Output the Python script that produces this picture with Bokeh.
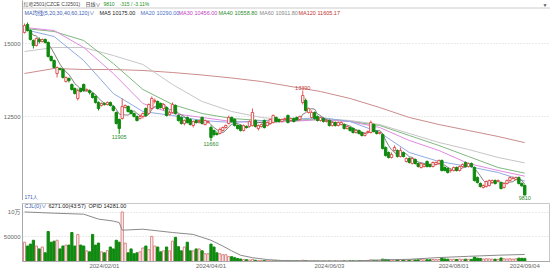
import pandas as pd
from bokeh.plotting import figure
from bokeh.models import Range1d, FixedTicker, Label, ColumnDataSource, Span
from bokeh.layouts import column
from bokeh.embed import file_html
from bokeh.resources import INLINE
from bokeh.core.properties import value

# ---------------- data ----------------
opens = [
    15377, 15651, 15446, 15103, 14932, 15137, 15069, 15137, 15035, 14555,
    14418, 13973, 14144, 14110, 13699, 13802, 13596, 13459, 13117, 13459,
    13596, 13391, 13391, 13288, 13185, 12980, 12877, 12945, 12911, 12980,
    12843, 12637, 12397, 12432, 12808, 12843, 12706, 12603, 12500, 12432,
    12500, 12774, 12603, 12774, 13014, 13014, 12945, 12774, 12808, 12569,
    12637, 12877, 12534, 12466, 12260, 12466, 12397, 12192, 12363, 12329,
    12466, 12226, 12295, 12123, 12021, 11918, 11918, 12021, 12123, 12260,
    12466, 12397, 12192, 12192, 12021, 12158, 12158, 12192, 12363, 12089,
    12158, 12363, 12192, 12260, 12295, 12466, 12397, 12329, 12397, 12534,
    12363, 12432, 12466, 12397, 12980, 13048, 12637, 12466, 12637, 12500,
    12363, 12432, 12329, 12363, 12192, 12295, 12192, 12226, 12226, 12089,
    12123, 12089, 11952, 12021, 11952, 11849, 11952, 11952, 12226, 11986,
    11918, 11884, 11439, 11267, 11096, 11336, 11336, 11130, 11267, 10959,
    11062, 10890, 11028, 10890, 10753, 10788, 10959, 10856, 10788, 10856,
    10890, 10993, 10753, 10719, 10651, 10651, 10753, 10651, 10788, 10925,
    10788, 10890, 10753, 10411, 10206, 10069, 10103, 10137, 10240, 10308,
    10274, 10240, 10069, 10206, 10308, 10377, 10343, 10411, 10206, 10137,
]
closes = [
    15617, 15446, 15137, 14932, 15172, 15069, 15137, 15035, 14555, 14418,
    14178, 14178, 14110, 13836, 13836, 13733, 13425, 13288, 13391, 13356,
    13391, 13425, 13322, 13151, 12980, 12774, 12945, 12911, 12980, 12877,
    12706, 12260, 12089, 12843, 12877, 12671, 12603, 12500, 12363, 12500,
    12603, 12534, 12911, 13117, 13048, 12774, 12808, 12911, 12534, 12637,
    12911, 12603, 12363, 12260, 12363, 12295, 12226, 12329, 12295, 12363,
    12260, 12363, 12329, 11781, 11884, 11884, 12055, 12123, 12192, 12466,
    12329, 12192, 12089, 12021, 12192, 12123, 12329, 12637, 12158, 12192,
    12226, 12123, 12295, 12397, 12534, 12329, 12329, 12397, 12432, 12295,
    12432, 12329, 12397, 12500, 13219, 12706, 12774, 12637, 12432, 12363,
    12466, 12329, 12363, 12192, 12295, 12192, 12295, 12295, 12089, 12158,
    12021, 11952, 12021, 11918, 11849, 11918, 11986, 12295, 11986, 11918,
    11952, 11404, 11165, 11096, 11199, 11439, 11130, 11336, 11130, 11062,
    10925, 11062, 10890, 10788, 10890, 10856, 10788, 10788, 10925, 10925,
    10993, 10651, 10651, 10582, 10651, 10753, 10651, 10788, 10856, 10788,
    10890, 10788, 10308, 10240, 10103, 10137, 10274, 10308, 10308, 10206,
    10308, 10034, 10206, 10308, 10411, 10377, 10411, 10206, 10125, 9810,
]
highs = [
    15685, 15720, 15480, 15137, 15206, 15206, 15172, 15172, 15069, 14589,
    14452, 14213, 14178, 14144, 13870, 13836, 13630, 13493, 13459, 13493,
    13630, 13459, 13425, 13322, 13219, 13014, 12980, 12980, 13014, 13014,
    12877, 12671, 12432, 13117, 12911, 12877, 12740, 12637, 12534, 12569,
    12637, 12808, 12945, 13185, 13117, 13048, 12980, 12945, 12843, 12706,
    12980, 12911, 12569, 12500, 12397, 12500, 12432, 12363, 12397, 12397,
    12500, 12397, 12363, 12192, 12055, 11986, 12123, 12158, 12226, 12534,
    12500, 12432, 12226, 12226, 12226, 12192, 12363, 12774, 12397, 12226,
    12260, 12397, 12329, 12432, 12569, 12500, 12432, 12432, 12466, 12569,
    12466, 12466, 12500, 12534, 13390, 13117, 12808, 12706, 12671, 12534,
    12500, 12466, 12397, 12397, 12329, 12329, 12329, 12329, 12260, 12192,
    12158, 12123, 12055, 12055, 11986, 11952, 12021, 12363, 12260, 12021,
    11986, 11918, 11473, 11302, 11267, 11507, 11370, 11439, 11302, 11096,
    11096, 11096, 11062, 10925, 10925, 10890, 10993, 10890, 10959, 10959,
    11028, 11028, 10788, 10753, 10719, 10788, 10788, 10822, 10890, 10959,
    10925, 10925, 10788, 10445, 10240, 10171, 10308, 10343, 10343, 10343,
    10343, 10274, 10240, 10343, 10445, 10445, 10445, 10445, 10240, 10171,
]
lows = [
    15343, 15411, 15103, 14829, 14898, 15000, 15035, 15000, 14521, 14384,
    14144, 13836, 14076, 13802, 13665, 13665, 13391, 13254, 13048, 13322,
    13356, 13356, 13254, 13117, 12945, 12706, 12843, 12877, 12877, 12843,
    12671, 12226, 11905, 12397, 12774, 12637, 12569, 12466, 12329, 12397,
    12432, 12500, 12569, 12740, 12945, 12740, 12774, 12706, 12500, 12534,
    12603, 12569, 12329, 12226, 12192, 12260, 12192, 12123, 12260, 12260,
    12226, 12192, 12260, 11660, 11815, 11849, 11884, 11986, 12089, 12226,
    12295, 12158, 12055, 11986, 11986, 12089, 12123, 12158, 12123, 12021,
    12123, 12089, 12158, 12226, 12260, 12295, 12295, 12295, 12363, 12260,
    12329, 12295, 12363, 12363, 12911, 12671, 12603, 12432, 12397, 12329,
    12329, 12295, 12295, 12158, 12158, 12158, 12158, 12192, 12055, 12055,
    11986, 11918, 11918, 11884, 11815, 11815, 11918, 11918, 11952, 11884,
    11884, 11370, 11130, 11062, 11062, 11302, 11096, 11096, 11096, 10925,
    10890, 10856, 10856, 10753, 10719, 10753, 10753, 10753, 10753, 10822,
    10856, 10617, 10617, 10548, 10582, 10617, 10617, 10617, 10753, 10753,
    10753, 10753, 10274, 10206, 10069, 10034, 10069, 10103, 10206, 10171,
    10240, 10000, 10034, 10171, 10274, 10343, 10308, 10171, 10103, 9810,
]
volumes = [
    39200, 31400, 35300, 43100, 31400, 25500, 29400, 17600, 60800, 39200,
    41200, 43100, 25500, 31400, 33300, 33300, 58800, 31400, 54900, 33300,
    31400, 21600, 19600, 54900, 33300, 37300, 19600, 17600, 22000, 29400,
    25500, 43100, 39200, 100500, 37300, 17600, 25500, 15700, 17600, 19600,
    27400, 31400, 24000, 51000, 31400, 29400, 19600, 21600, 29400, 21600,
    41200, 49000, 30000, 21600, 29400, 39200, 21600, 21600, 25500, 25500,
    21600, 15700, 15700, 35300, 29400, 17600, 15700, 13700, 13700, 9800,
    9800, 7800, 6000, 5000, 4200, 3600, 3000, 4500, 2600, 2200,
    2000, 1800, 1600, 1500, 1900, 1400, 1200, 1300, 1100, 1500,
    1200, 1100, 1300, 1200, 2500, 1800, 1300, 1200, 1100, 1000,
    1200, 1100, 1000, 1200, 1000, 1100, 1000, 1200, 1300, 1100,
    1400, 1500, 1300, 1600, 1800, 1700, 2000, 3200, 2600, 2200,
    2400, 4800, 4200, 3600, 2800, 3000, 3400, 3800, 3100, 3300,
    3000, 3600, 3200, 3500, 3900, 3300, 3600, 3400, 4000, 3700,
    4100, 7600, 5200, 4800, 4300, 4600, 4200, 4900, 4400, 4700,
    4500, 4300, 8900, 6800, 6200, 5000, 5600, 5200, 4800, 4600,
    4400, 7200, 5400, 5100, 5600, 4900, 5300, 6800, 6500, 6271,
]

# moving-average lines at sample bars
ma_idx = [0, 10, 20, 30, 40, 50, 60, 70, 80, 90, 100, 110, 120, 130, 140, 150, 160, 169]
ma20 = [15480, 15240, 14418, 13288, 12671, 12534, 12363, 12295, 12363, 12397, 12466, 12329, 11952, 11267, 10959, 10788, 10582, 10290]
ma30 = [15548, 15446, 14863, 13973, 12945, 12603, 12466, 12329, 12295, 12329, 12397, 12329, 12123, 11678, 11336, 10890, 10651, 10456]
ma40 = [15514, 15411, 15103, 14315, 13425, 12911, 12603, 12432, 12363, 12363, 12397, 12329, 12192, 11849, 11507, 11130, 10753, 10559]
ma60 = [14726, 14863, 14863, 14589, 14281, 13596, 13014, 12671, 12466, 12363, 12432, 12363, 12226, 11918, 11610, 11370, 11096, 10912]
ma120 = [13973, 14144, 14110, 14110, 14076, 14007, 13921, 13819, 13699, 13528, 13356, 13117, 12808, 12466, 12226, 12021, 11815, 11605]

# open interest line read at sample bars
oi_idx = [0, 10, 20, 25, 30, 32, 33, 40, 50, 57, 60, 63, 67, 70, 73, 77, 82, 87, 100, 110, 115, 120, 130, 140, 150, 160, 169]
oi_val = [100500, 98000, 96000, 86000, 82000, 79000, 63500, 65500, 58800, 54900, 49000, 43100, 31400, 21600, 12700,
          7800, 3900, 2000, 1000, 1000, 2000, 3000, 4500, 8000, 10500, 12800, 14281]

date_tick_idx = [27, 63, 103, 145, 169]
date_tick_labels = ["2024/02/01", "2024/04/01", "2024/06/03", "2024/08/01", "2024/09/04"]
price_ticks = [12500, 15000]
vol_ticks = [50000, 100000]
vol_tick_labels = ["50000", "10万"]
low_mark_idx = [32, 63, 169]
high_mark_idx = [94]

# ---------------- styling ----------------
UP = "#e05656"
DOWN = "#0f8a0f"
VOL_UP = "#d98080"
FONT = "Liberation Sans, Noto Sans CJK SC, sans-serif"
AXIS_C = "#a8a8a8"
LABEL_C = "#666666"

n = len(closes)
xs = list(range(n))
is_up = [c >= o for o, c in zip(opens, closes)]
src = ColumnDataSource(dict(
    x=xs,
    top=[max(o, c) for o, c in zip(opens, closes)],
    bottom=[min(o, c) for o, c in zip(opens, closes)],
    high=highs, low=lows, vol=volumes,
    line=[UP if u else DOWN for u in is_up],
    fill=["#ffffff" if u else DOWN for u in is_up],
    vline=[VOL_UP if u else DOWN for u in is_up],
    vfill=["#ffffff" if u else DOWN for u in is_up],
))
ma5 = pd.Series(closes).rolling(5, min_periods=1).mean().tolist()

X_RANGE = Range1d(-0.68, 177.7)
PRICE_TOP, PRICE_BOT, MAIN_H = 16473, 9623, 200


def style_axis(ax):
    ax.major_tick_line_color = None
    ax.minor_tick_line_color = None
    ax.major_tick_out = 0
    ax.major_tick_in = 0
    ax.minor_tick_out = 0
    ax.minor_tick_in = 0
    ax.axis_line_color = AXIS_C
    ax.major_label_text_font_size = "6px"
    ax.major_label_text_color = LABEL_C
    ax.major_label_text_font = FONT


def hdr(fig, cx, cy, text, color, left, bottom, size="5.5px"):
    fig.add_layout(Label(x=cx - left, y=bottom - cy, x_units="screen", y_units="screen", text=text,
                         text_color=color, text_font_size=size, text_font=FONT,
                         text_baseline="middle", text_align="left"))


# ---------------- main price panel (frame from canvas y 0 to 200) ----------------
p = figure(width=550, height=MAIN_H, x_range=X_RANGE, y_range=Range1d(PRICE_BOT, PRICE_TOP),
           x_axis_location=None, toolbar_location=None, output_backend="svg",
           min_border_left=22, min_border_right=0, min_border_top=0, min_border_bottom=0,
           outline_line_color=None, background_fill_color="white", border_fill_color="white")
p.yaxis.ticker = FixedTicker(ticks=price_ticks)
style_axis(p.yaxis[0])
p.yaxis.major_label_standoff = 2
p.xgrid.visible = False
p.ygrid.grid_line_color = "#d4d4d4"
p.ygrid.grid_line_dash = "1 2"

# thin rule under the header row
p.add_layout(Span(location=PRICE_TOP - 7.5 * (PRICE_TOP - PRICE_BOT) / MAIN_H, dimension="width",
                  line_color="#cccccc", line_width=1))

ma_colors = {"ma20": "#90aae2", "ma30": "#e08ae0", "ma40": "#80b880", "ma60": "#c6c6c6", "ma120": "#cc8c8c"}
p.line(ma_idx, ma120, color=ma_colors["ma120"], line_width=1)
p.line(ma_idx, ma60, color=ma_colors["ma60"], line_width=1)
p.line(ma_idx, ma40, color=ma_colors["ma40"], line_width=1)
p.line(ma_idx, ma30, color=ma_colors["ma30"], line_width=1)
p.line(ma_idx, ma20, color=ma_colors["ma20"], line_width=1)
p.line(xs, ma5, color="#606060", line_width=0.8)

p.segment(x0="x", y0="low", x1="x", y1="high", line_color="line", line_width=1, source=src)
p.vbar(x="x", top="top", bottom="bottom", width=0.8, fill_color="fill", line_color="line",
       line_width=1, source=src)

p.text(x=low_mark_idx, y=[lows[i] for i in low_mark_idx], text=[str(lows[i]) for i in low_mark_idx],
       text_font=value(FONT), text_font_size="5.5px", text_color="#2a8a2a",
       text_align="center", text_baseline="top", y_offset=1)
p.text(x=high_mark_idx, y=[highs[i] for i in high_mark_idx], text=[str(highs[i]) for i in high_mark_idx],
       text_font=value(FONT), text_font_size="5.5px", text_color="#c84040",
       text_align="center", text_baseline="bottom", y_offset=-1)

# header row (canvas y ~3.5)
hdr(p, 23, 3.5, "红枣2501(CZCE CJ2501)", "#444444", 22, MAIN_H, "5px")
hdr(p, 85, 3.5, "日线∨", "#444444", 22, MAIN_H, "5px")
hdr(p, 103, 3.5, "9810", "#1a8f1a", 22, MAIN_H, "5px")
hdr(p, 119, 3.5, "-315 / -3.11%", "#1a8f1a", 22, MAIN_H, "5px")
hdr(p, 542, 4.5, "▼", "#555555", 22, MAIN_H, "5px")
# MA legend row
hdr(p, 24, 12, "MA均线(5,20,30,40,60,120)∨", "#3a5cb0", 22, MAIN_H, "5.3px")
hdr(p, 99, 12, "MA5 10175.00", "#222222", 22, MAIN_H)
hdr(p, 140, 12, "MA20 10290.00", "#4a6fc8", 22, MAIN_H)
hdr(p, 178, 12, "MA30 10456.00", "#c03cc0", 22, MAIN_H)
hdr(p, 218, 12, "MA40 10558.80", "#2e8b2e", 22, MAIN_H)
hdr(p, 259, 12, "MA60 10911.80", "#888888", 22, MAIN_H)
hdr(p, 298, 12, "MA120 11605.17", "#c03030", 22, MAIN_H)
hdr(p, 24, 196, "171人", "#3a5cb0", 22, MAIN_H, "5px")

# ---------------- separator band ----------------
band = figure(width=550, height=3, x_axis_location=None, y_axis_location=None,
              toolbar_location=None, output_backend="svg", min_border=0,
              outline_line_color=None, background_fill_color="#d6d6d6", border_fill_color="#d6d6d6")

# ---------------- volume panel ----------------
v = figure(width=550, height=68, x_range=X_RANGE, y_range=Range1d(0, 117647),
           toolbar_location=None, output_backend="svg",
           min_border_left=22, min_border_right=0, min_border_top=0, min_border_bottom=8,
           outline_line_color="#c8c8c8", background_fill_color="white", border_fill_color="white")
v.yaxis.ticker = FixedTicker(ticks=vol_ticks)
v.yaxis.major_label_overrides = dict(zip(vol_ticks, vol_tick_labels))
style_axis(v.yaxis[0])
v.yaxis.major_label_standoff = 2
v.xaxis.ticker = FixedTicker(ticks=date_tick_idx)
v.xaxis.major_label_overrides = dict(zip(date_tick_idx, date_tick_labels))
style_axis(v.xaxis[0])
v.xaxis.major_label_standoff = 1
v.xgrid.visible = False
v.ygrid.grid_line_color = "#d4d4d4"
v.ygrid.grid_line_dash = "1 2"

v.vbar(x="x", top="vol", bottom=0, width=0.75, fill_color="vfill", line_color="vline",
       line_width=1, source=src)
v.line(oi_idx, oi_val, color="#8a8a8a", line_width=1)

hdr(v, 24, 207, "CJL(0)∨", "#3a5cb0", 22, 263)
hdr(v, 48, 207, "6271.00(43:57)", "#222222", 22, 263)
hdr(v, 88, 207, "OPID 14281.00", "#222222", 22, 263)

layout = column(p, band, v, spacing=0)
open("out.html", "w").write(file_html(layout, INLINE))
